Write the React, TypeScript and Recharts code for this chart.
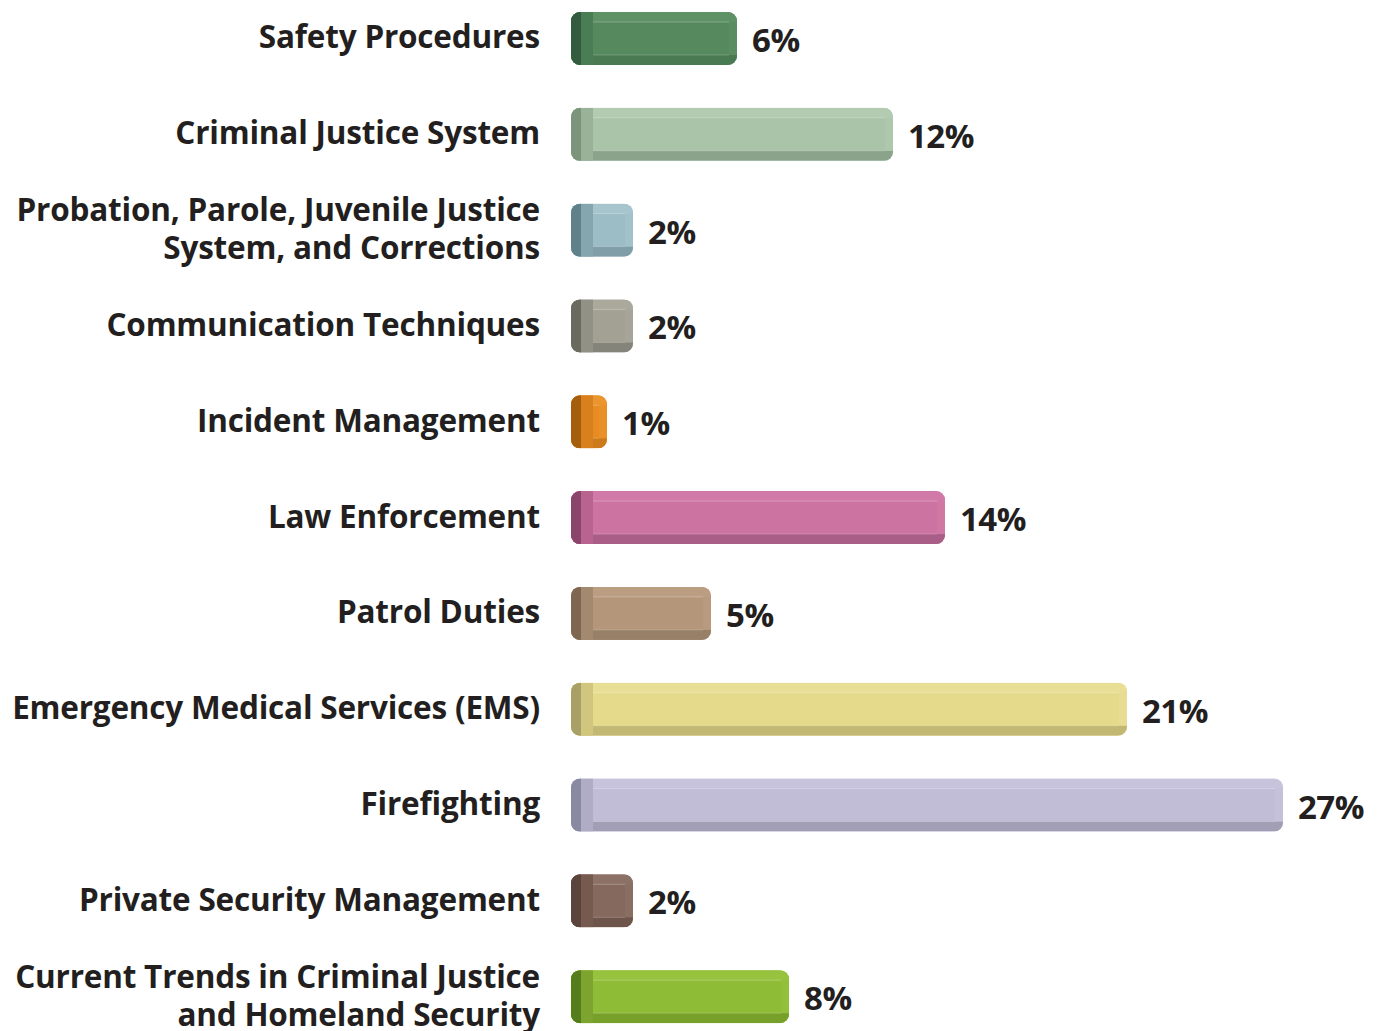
import React from 'react';
import { BarChart, Bar, XAxis, YAxis, LabelList } from 'recharts';

const categories = [
  'Safety Procedures',
  'Criminal Justice System',
  'Probation, Parole, Juvenile Justice\nSystem, and Corrections',
  'Communication Techniques',
  'Incident Management',
  'Law Enforcement',
  'Patrol Duties',
  'Emergency Medical Services (EMS)',
  'Firefighting',
  'Private Security Management',
  'Current Trends in Criminal Justice\nand Homeland Security',
];

const percents = [6, 12, 2, 2, 1, 14, 5, 21, 27, 2, 8];

// face / top / bottom / left cap / cap bevel
const palette = [
  ['#568a5e', '#5e9166', '#4a7a52', '#335c3e', '#4b7d55'],
  ['#a9c4a9', '#b2cbb1', '#8ba38b', '#7c937c', '#98b398'],
  ['#9cbdc6', '#a6c5cd', '#7f9ea7', '#60808a', '#86a6af'],
  ['#a3a194', '#aaa99c', '#85847a', '#6b6a61', '#929185'],
  ['#e88b22', '#eb952f', '#cc7a1c', '#a55e0c', '#d9801e'],
  ['#cd73a1', '#d27aa7', '#a85e86', '#8a456c', '#b8648f'],
  ['#b4967a', '#bb9e82', '#978067', '#7e6650', '#a38970'],
  ['#e5d98b', '#e8de96', '#c3b873', '#a9a068', '#d0c67e'],
  ['#c1bdd6', '#c7c3dc', '#a29eb6', '#898aa2', '#b0acc6'],
  ['#85695e', '#8c7166', '#6e554b', '#5b443c', '#76594f'],
  ['#8fbc36', '#97c23e', '#77a02b', '#567d1c', '#7da42e'],
];

const data = categories.map((name, i) => ({ name, value: percents[i] }));

const FONT = '"Open Sans", sans-serif';

const BevelBar = (props: any) => {
  const { x, y, width, height, index } = props;
  const c = palette[index];
  const x0 = x - 10;
  const w = width + 10;
  const id = `clip-${index}`;
  return (
    <g>
      <defs>
        <clipPath id={id}>
          <rect x={x0} y={y} width={w} height={height} rx={9} ry={9} />
        </clipPath>
      </defs>
      <g clipPath={`url(#${id})`}>
        <rect x={x0} y={y} width={w} height={height} fill={c[0]} />
        <rect x={x0} y={y} width={w} height={10} fill={c[1]} />
        <rect x={x0} y={y + height - 10} width={w} height={10} fill={c[2]} />
        <rect x={x0 + w - 8} y={y + 9} width={8} height={height - 19} fill={c[1]} opacity={0.6} />
        <rect x={x0} y={y} width={22} height={height} fill={c[4]} />
        <rect x={x0} y={y} width={10} height={height} fill={c[3]} />
        <line x1={x0 + 22} y1={y + 10} x2={x0 + w - 8} y2={y + 10} stroke="#fff" strokeOpacity={0.25} />
        <line x1={x0 + 22} y1={y + height - 10} x2={x0 + w - 8} y2={y + height - 10} stroke="#fff" strokeOpacity={0.2} />
      </g>
    </g>
  );
};

const CategoryTick = (props: any) => {
  const { x, y, payload } = props;
  const lines = String(payload.value).split('\n');
  const lh = 38;
  const start = -((lines.length - 1) * lh) / 2 - 3;
  return (
    <text
      x={x - 33}
      y={y}
      textAnchor="end"
      fontFamily={FONT}
      fontWeight={700}
      fontSize={31.5}
      letterSpacing={-0.2}
      fill="#231f20"
    >
      {lines.map((l, i) => (
        <tspan key={i} x={x - 33} dy={i === 0 ? start : lh} dominantBaseline="central">
          {l}
        </tspan>
      ))}
    </text>
  );
};

const ValueLabel = (props: any) => {
  const { x, y, width, height, value } = props;
  return (
    <text
      x={x + width + 15}
      y={y + height / 2 + 1}
      dominantBaseline="central"
      fontFamily={FONT}
      fontWeight={700}
      fontSize={33}
      letterSpacing={-0.5}
      fill="#231f20"
    >
      {value}%
    </text>
  );
};

export default function App() {
  return (
    <div style={{ position: 'absolute', left: 0, top: -9 }}>
      <BarChart
        width={1384}
        height={1054}
        data={data}
        layout="vertical"
        margin={{ top: 0, right: 75, bottom: 0, left: 0 }}
        barSize={53}
      >
        <XAxis type="number" domain={[0, 28]} hide />
        <YAxis
          type="category"
          dataKey="name"
          width={581}
          axisLine={false}
          tickLine={false}
          tick={<CategoryTick />}
          interval={0}
        />
        <Bar dataKey="value" shape={<BevelBar />} isAnimationActive={false}>
          <LabelList dataKey="value" content={<ValueLabel />} />
        </Bar>
      </BarChart>
    </div>
  );
}
